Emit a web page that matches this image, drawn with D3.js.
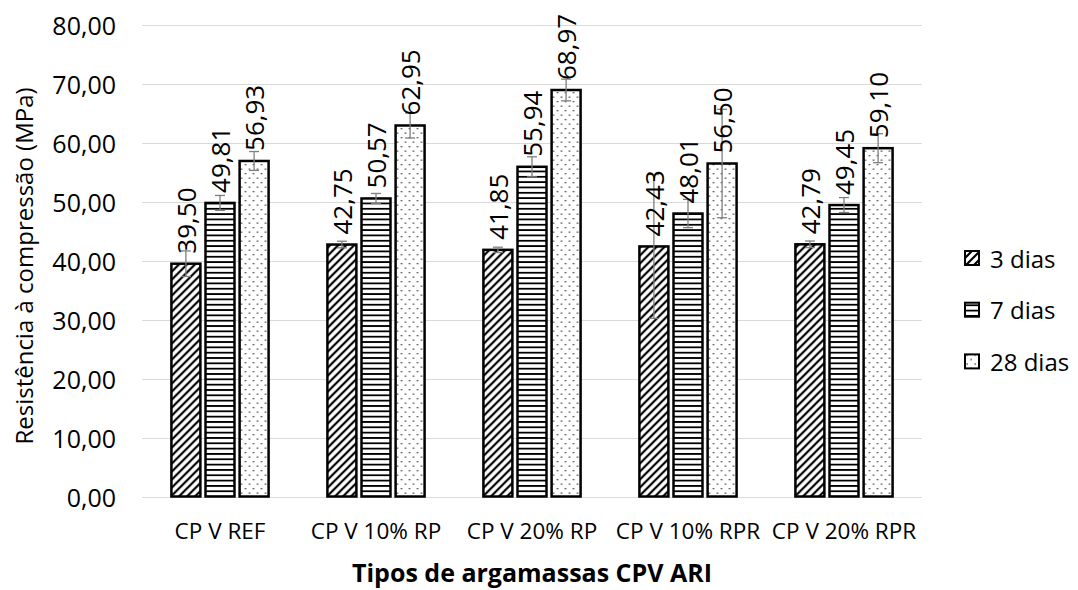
<!DOCTYPE html>
<html>
<head>
<meta charset="utf-8">
<script src="https://cdn.jsdelivr.net/npm/d3@7"></script>
<style>
  html, body { margin: 0; padding: 0; background: #fff; }
  svg { display: block; }
  text { font-family: "Open Sans", "Noto Sans", sans-serif; fill: #000; }
</style>
</head>
<body>
<svg id="chart" width="1078" height="590"></svg>
<script>
// ---- data ----
const categories = ["CP V REF", "CP V 10% RP", "CP V 20% RP", "CP V 10% RPR", "CP V 20% RPR"];
const seriesNames = ["3 dias", "7 dias", "28 dias"];
const values3 = [39.50, 42.75, 41.85, 42.43, 42.79];
const values7 = [49.81, 50.57, 55.94, 48.01, 49.45];
const values28 = [56.93, 62.95, 68.97, 56.50, 59.10];
const err3 = [2.17, 0.56, 0.45, 12.2, 0.56];
const err7 = [1.27, 0.85, 1.70, 2.40, 1.27];
const err28 = [1.60, 2.12, 1.84, 9.20, 2.46];
const yTicks = [0, 10, 20, 30, 40, 50, 60, 70, 80];
const yTitle = "Resistência à compressão (MPa)";
const xTitle = "Tipos de argamassas CPV ARI";

const seriesValues = [values3, values7, values28];
const seriesErr = [err3, err7, err28];
const patternIds = ["pDiag", "pHoriz", "pDots"];

const svg = d3.select("#chart");
svg.append("rect").attr("width", 1078).attr("height", 590).attr("fill", "#fff");

// ---- patterns ----
const defs = svg.append("defs");
const pd = defs.append("pattern").attr("id", "pDiag").attr("patternUnits", "userSpaceOnUse")
  .attr("width", 8).attr("height", 8);
pd.append("rect").attr("width", 8).attr("height", 8).attr("fill", "#fff");
pd.append("path").attr("d", "M-2,2 L2,-2 M0,8 L8,0 M6,10 L10,6")
  .attr("stroke", "#000").attr("stroke-width", 2.2);

const ph = defs.append("pattern").attr("id", "pHoriz").attr("patternUnits", "userSpaceOnUse")
  .attr("width", 8).attr("height", 5.33);
ph.append("rect").attr("width", 8).attr("height", 5.33).attr("fill", "#fff");
ph.append("rect").attr("y", 0).attr("width", 8).attr("height", 1.8).attr("fill", "#000");

const pdots = defs.append("pattern").attr("id", "pDots").attr("patternUnits", "userSpaceOnUse")
  .attr("width", 8).attr("height", 9);
pdots.append("rect").attr("width", 8).attr("height", 9).attr("fill", "#fff");
pdots.append("rect").attr("x", 1.5).attr("y", 2).attr("width", 1.3).attr("height", 1.3).attr("fill", "#222");
pdots.append("rect").attr("x", 5.5).attr("y", 6.5).attr("width", 1.3).attr("height", 1.3).attr("fill", "#222");

// ---- scales ----
const plotLeft = 142, plotRight = 922, plotTop = 25, plotBottom = 496.5;
const y = d3.scaleLinear().domain([0, 80]).range([plotBottom, plotTop]);
const x0 = d3.scaleBand().domain(categories).range([plotLeft, plotRight])
  .paddingInner(0.377).paddingOuter(0.1885);
const x1 = d3.scaleBand().domain(seriesNames).range([0, x0.bandwidth()]).paddingInner(0.15);

// ---- gridlines ----
svg.append("g").selectAll("line").data(yTicks).join("line")
  .attr("x1", plotLeft).attr("x2", plotRight)
  .attr("y1", d => Math.round(y(d)) + 0.5).attr("y2", d => Math.round(y(d)) + 0.5)
  .attr("stroke", "#d9d9d9").attr("stroke-width", 1.2);

// ---- y axis labels ----
const fmt = d => d.toFixed(2).replace(".", ",");
svg.append("g").selectAll("text").data(yTicks).join("text")
  .attr("x", 116).attr("y", d => y(d))
  .attr("text-anchor", "end").attr("dominant-baseline", "central")
  .style("font-size", "25px").text(fmt);

// ---- bars ----
const groups = svg.append("g").selectAll("g").data(categories).join("g")
  .attr("transform", d => `translate(${x0(d)},0)`);

seriesNames.forEach((s, si) => {
  const vals = seriesValues[si];
  groups.append("rect")
    .attr("x", x1(s)).attr("width", x1.bandwidth())
    .attr("y", (c, ci) => y(vals[ci]))
    .attr("height", (c, ci) => y(0) - y(vals[ci]))
    .attr("fill", `url(#${patternIds[si]})`)
    .attr("stroke", "#000").attr("stroke-width", 2.5);
});

// error bars
seriesNames.forEach((s, si) => {
  const vals = seriesValues[si], errs = seriesErr[si];
  const cx = x1(s) + x1.bandwidth() / 2;
  const eg = groups.append("g").attr("stroke", "#7f7f7f").attr("stroke-width", 1.3);
  eg.append("line").attr("x1", cx).attr("x2", cx)
    .attr("y1", (c, ci) => y(vals[ci] + errs[ci])).attr("y2", (c, ci) => y(vals[ci] - errs[ci]));
  eg.append("line").attr("x1", cx - 5).attr("x2", cx + 5)
    .attr("y1", (c, ci) => y(vals[ci] + errs[ci])).attr("y2", (c, ci) => y(vals[ci] + errs[ci]));
  eg.append("line").attr("x1", cx - 5).attr("x2", cx + 5)
    .attr("y1", (c, ci) => y(vals[ci] - errs[ci])).attr("y2", (c, ci) => y(vals[ci] - errs[ci]));
});

// data labels
seriesNames.forEach((s, si) => {
  const vals = seriesValues[si];
  const cx = x1(s) + x1.bandwidth() / 2;
  groups.append("text")
    .attr("transform", (c, ci) => `translate(${cx},${y(vals[ci]) - 10}) rotate(-90)`)
    .attr("text-anchor", "start").attr("dominant-baseline", "central")
    .style("font-size", "26px")
    .text((c, ci) => fmt(vals[ci]));
});

// ---- category labels ----
svg.append("g").selectAll("text").data(categories).join("text")
  .attr("x", d => x0(d) + x0.bandwidth() / 2).attr("y", 539)
  .attr("text-anchor", "middle").style("font-size", "22.5px").text(d => d);

// ---- axis titles ----
svg.append("text")
  .attr("transform", `translate(33,266) rotate(-90)`)
  .attr("text-anchor", "middle").style("font-size", "24px").text(yTitle);

svg.append("text")
  .attr("x", 532).attr("y", 582)
  .attr("text-anchor", "middle").style("font-size", "25px").style("font-weight", "bold")
  .text(xTitle);

// ---- legend ----
const legend = svg.append("g").selectAll("g").data(seriesNames).join("g")
  .attr("transform", (d, i) => `translate(965,${258 + i * 51.7})`);
legend.append("rect").attr("x", 0).attr("y", -7).attr("width", 14).attr("height", 14)
  .attr("fill", (d, i) => `url(#${patternIds[i]})`)
  .attr("stroke", "#000").attr("stroke-width", 2);
legend.append("text").attr("x", 25).attr("y", 0).attr("dominant-baseline", "central")
  .style("font-size", "24px").text(d => d);
</script>
</body>
</html>
